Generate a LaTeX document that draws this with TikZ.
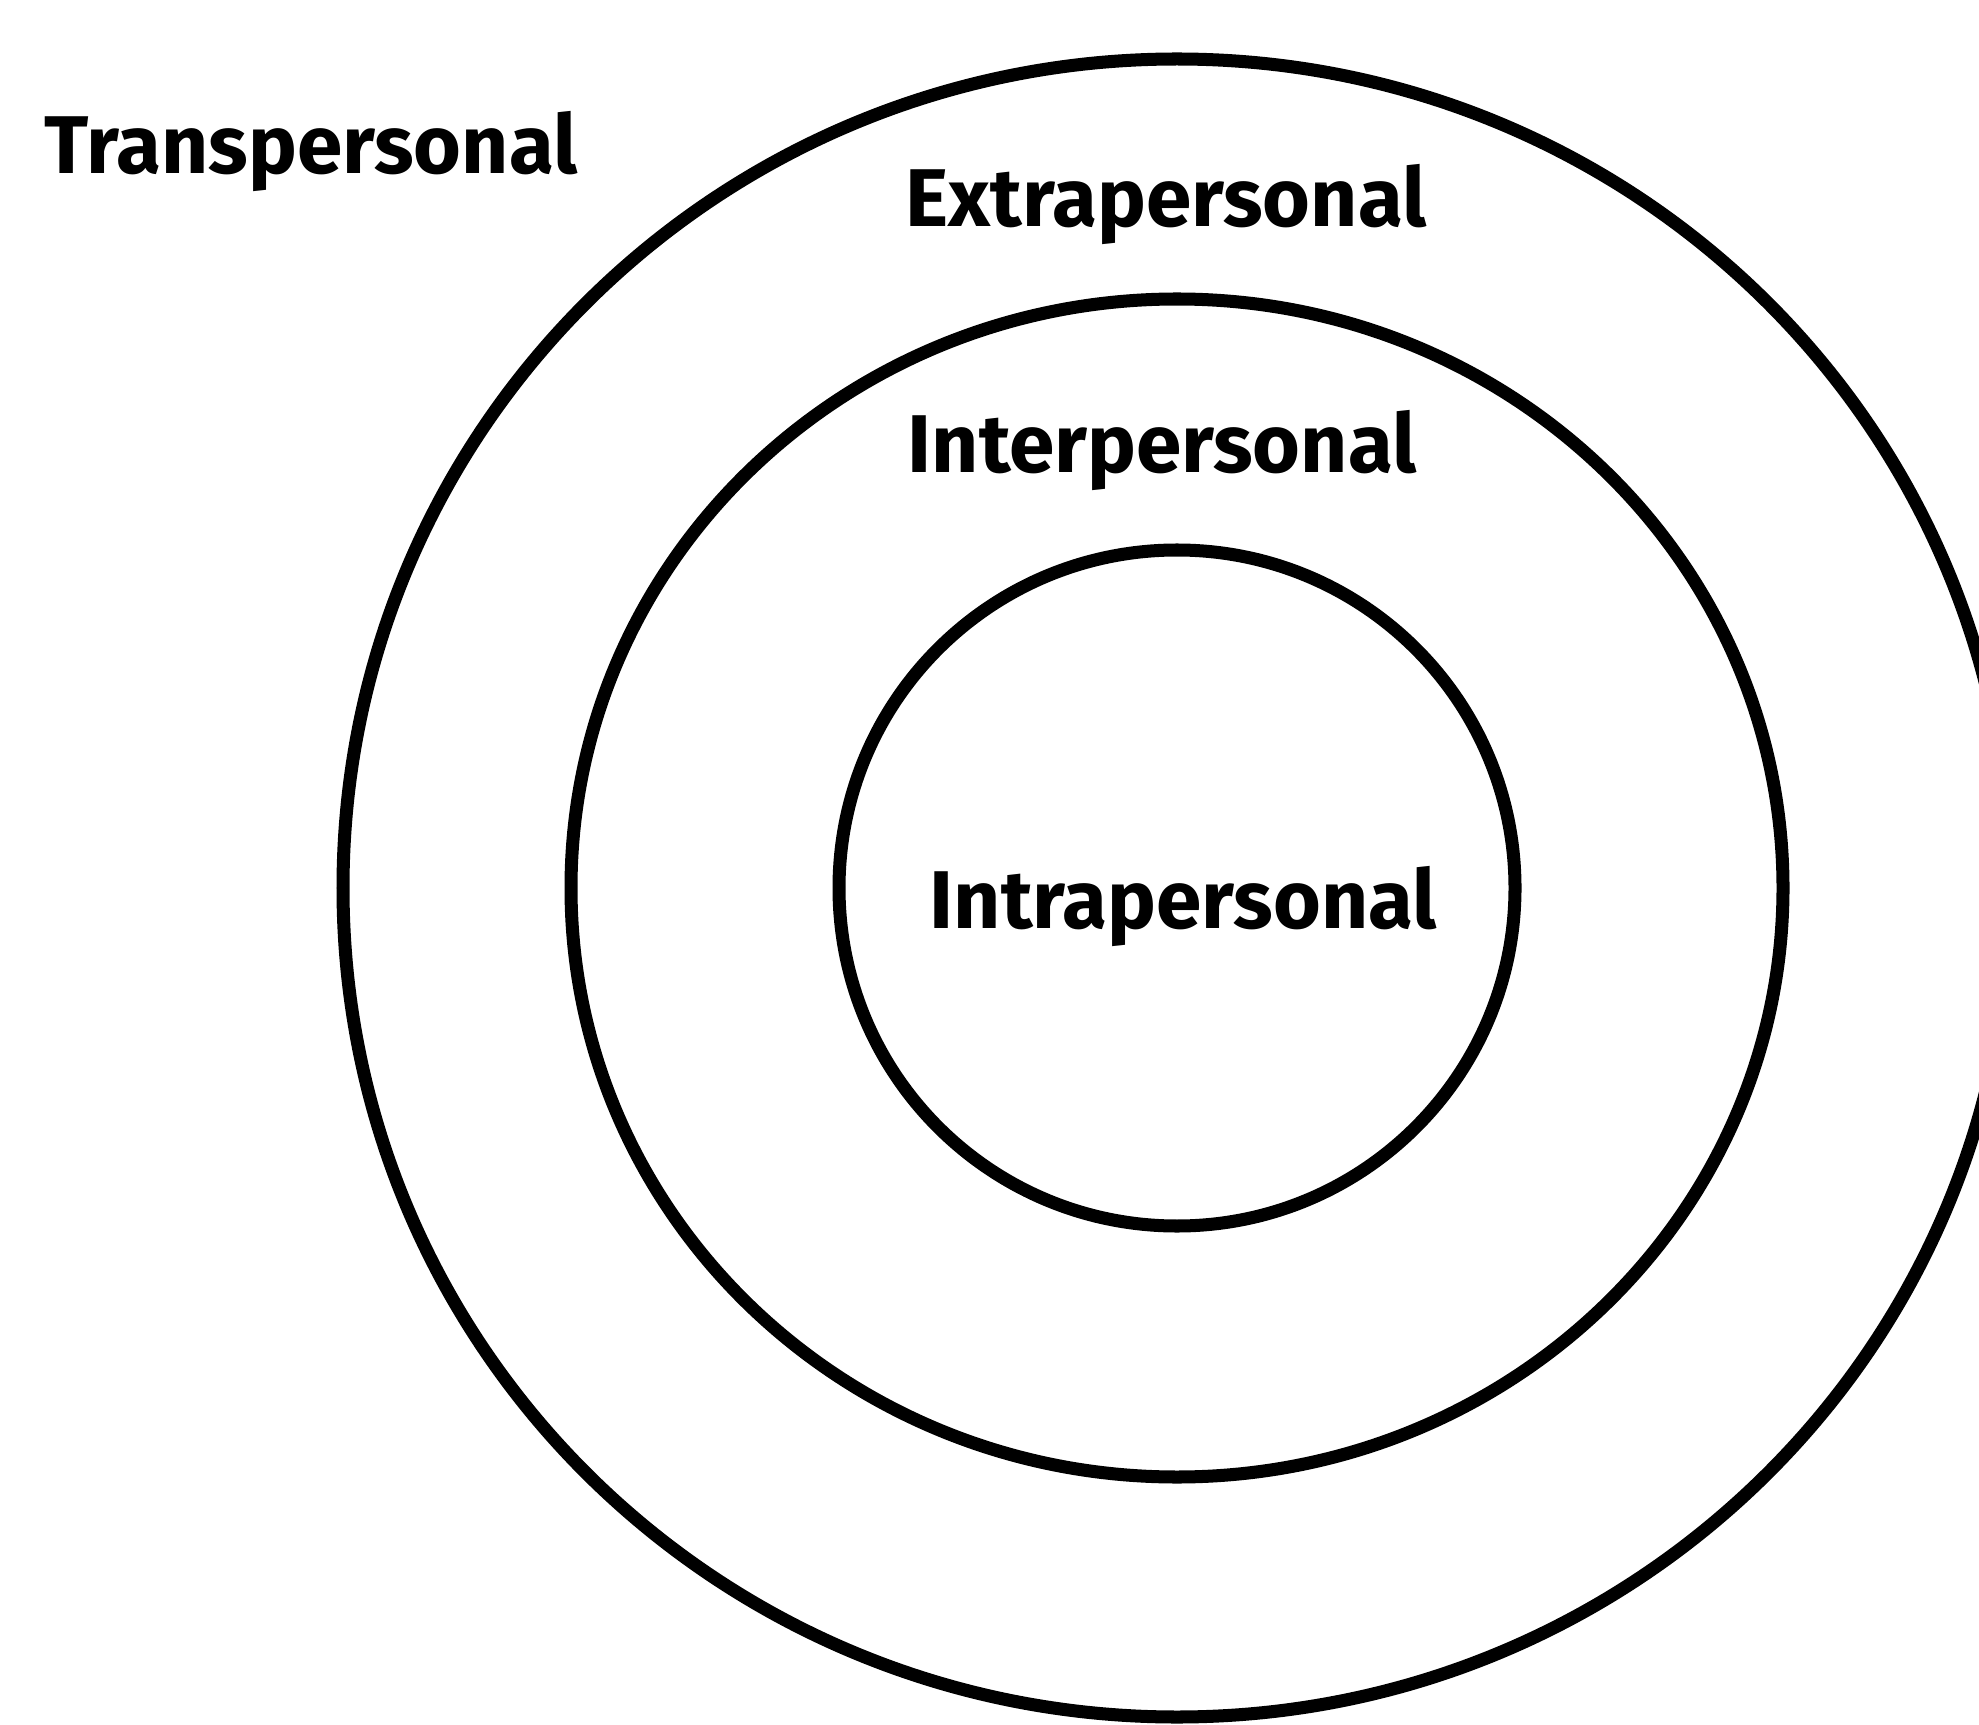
\documentclass[tikz,border=0pt]{standalone}
\usepackage{fontspec}
\setmainfont{Fira Sans}
\usetikzlibrary{positioning}

\begin{document}
\begin{tikzpicture}[x=0.01cm, y=-0.01cm, every node/.style={font=\bfseries\fontsize{23.3}{27}\selectfont, inner sep=0pt}]
    \tikzstyle{ring}=[draw=black, line width=3.7pt]
    \tikzstyle{ringtext}=[anchor=base west]
    \useasboundingbox (0,0) rectangle (1979,1725);
    \coordinate (c) at (1177,888);
    \draw[ring] (c) ellipse [x radius=834, y radius=829];
    \draw[ring] (c) ellipse [x radius=606, y radius=589];
    \draw[ring] (c) circle [radius=338];
    \node[ringtext] (trans) at (44,174) {Transpersonal};
    \node[ringtext] (extra) at (905,227) {Extrapersonal};
    \node[ringtext] (inter) at (907,473) {Interpersonal};
    \node[ringtext] (intra) at (929,928) {Intrapersonal};
\end{tikzpicture}
\end{document}
